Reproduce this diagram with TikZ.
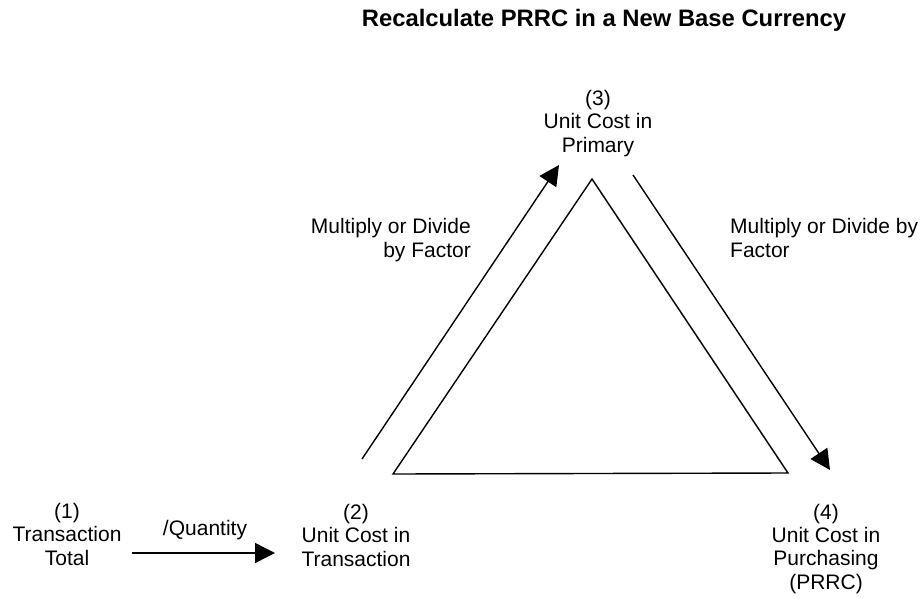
\documentclass[tikz,border=0pt]{standalone}
\usepackage{fontspec}
\setmainfont{Liberation Sans}
\usetikzlibrary{arrows.meta}
\begin{document}
\begin{tikzpicture}[x=1pt,y=-1pt,
  lbl/.style={inner sep=0pt,align=center,font=\fontsize{21}{23.3}\selectfont,anchor=base},
  note/.style={inner sep=0pt,font=\fontsize{21}{23.3}\selectfont,anchor=base},
  flow/.style={line width=1.4pt,-{Triangle[length=20pt,width=20pt]}},
  edge/.style={line width=1.4pt,line join=miter}]
\useasboundingbox (0,0) rectangle (923,597);
% title
\node[inner sep=0pt,anchor=base,font=\fontsize{23.8}{28}\selectfont\bfseries] (title) at (604,27) {Recalculate PRRC in a New Base Currency};
% the four cost stages (anchored at the baseline of their last line)
\node[lbl] (s1) at (67,565) {(1)\\Transaction\\Total};
\node[lbl] (s2) at (356,566) {(2)\\Unit Cost in\\Transaction};
\node[lbl] (s3) at (598,152) {(3)\\Unit Cost in\\Primary};
\node[lbl] (s4) at (826,589) {(4)\\Unit Cost in\\Purchasing\\(PRRC)};
% operation labels
\node[note] (q) at (205,535) {/Quantity};
\node[note,align=right,anchor=base east] (fl) at (471,257) {Multiply or Divide\\by Factor};
\node[note,align=left,anchor=base west] (fr) at (730,257) {Multiply or Divide by\\Factor};
% triangle corners
\coordinate (tA) at (592,179);
\coordinate (tL) at (393,474);
\coordinate (tR) at (788,473);
\draw[edge] (tA) -- (tL) -- (tR) -- cycle;
% arrow ends
\coordinate (q0) at (132,553);
\coordinate (q1) at (275,553);
\coordinate (l0) at (362,459);
\coordinate (l1) at (559,165);
\coordinate (r0) at (633,175);
\coordinate (r1) at (830,470);
\draw[flow] (q0) -- (q1);
\draw[flow] (l0) -- (l1);
\draw[flow] (r0) -- (r1);
\end{tikzpicture}
\end{document}
